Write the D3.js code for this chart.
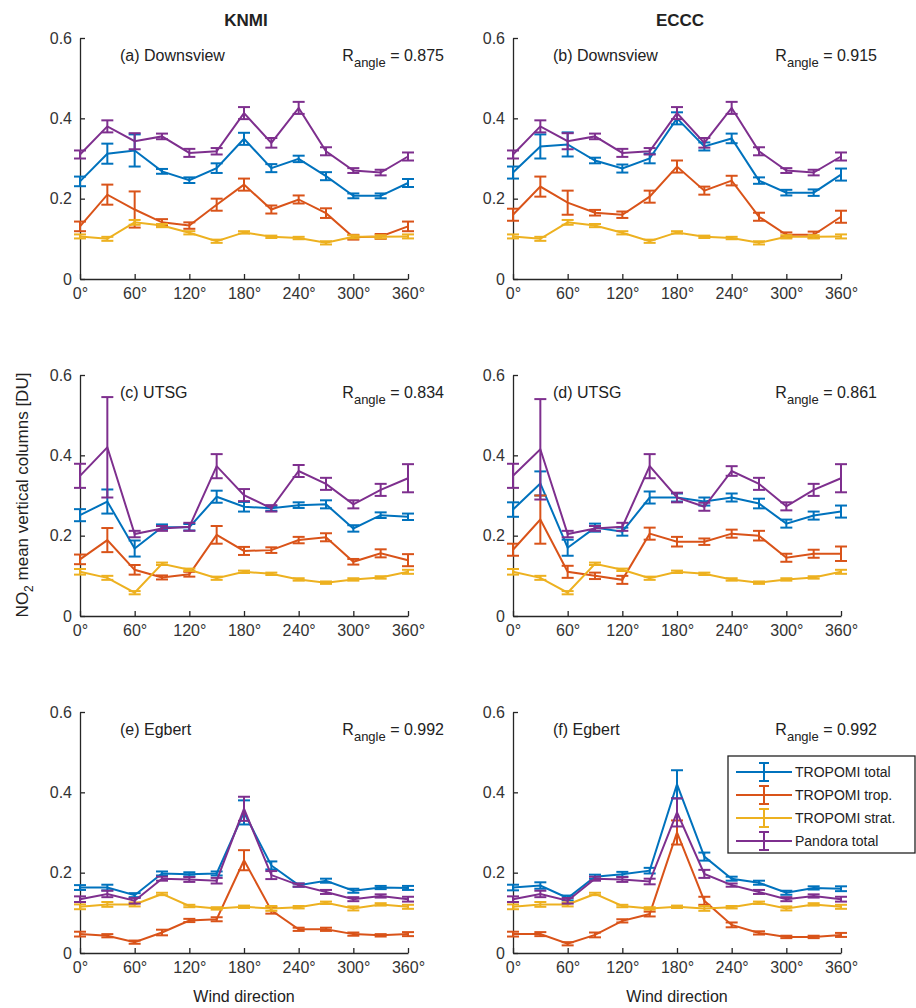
<!DOCTYPE html>
<meta charset="UTF-8">
<head>
<script src="https://cdn.jsdelivr.net/npm/d3@7"></script>
<style>
  body { margin: 0; background: #fff; }
  text { font-family: "Liberation Sans", Arial, sans-serif; fill: #222; }
  .axis path, .axis line { stroke: #262626; stroke-width: 1.3px; }
  .axis text { font-size: 16px; fill: #333; }
</style>
</head>
<body>
<script>
var angles = [0, 30, 60, 90, 120, 150, 180, 210, 240, 270, 300, 330, 360];
var xTicks = [0, 60, 120, 180, 240, 300, 360];
var yTicks = [0, 0.2, 0.4, 0.6];
var seriesNames = ["TROPOMI total", "TROPOMI trop.", "TROPOMI strat.", "Pandora total"];
var colors = ["#0072BD", "#D95319", "#EDB120", "#7E2F8E"];

// (a) KNMI Downsview
var aTotal = [0.243, 0.312, 0.32, 0.268, 0.246, 0.276, 0.349, 0.276, 0.299, 0.256, 0.207, 0.207, 0.239];
var aTotalErr = [0.012, 0.025, 0.04, 0.006, 0.007, 0.012, 0.015, 0.01, 0.008, 0.01, 0.006, 0.006, 0.01];
var aTrop = [0.131, 0.21, 0.173, 0.141, 0.133, 0.185, 0.235, 0.173, 0.198, 0.164, 0.104, 0.106, 0.131];
var aTropErr = [0.012, 0.025, 0.045, 0.008, 0.008, 0.015, 0.015, 0.01, 0.01, 0.012, 0.006, 0.006, 0.012];
var aStrat = [0.106, 0.1, 0.141, 0.133, 0.115, 0.094, 0.116, 0.105, 0.102, 0.09, 0.105, 0.105, 0.106];
var aStratErr = [0.005, 0.005, 0.006, 0.004, 0.004, 0.004, 0.003, 0.003, 0.003, 0.004, 0.004, 0.004, 0.005];
var aPandora = [0.31, 0.38, 0.343, 0.355, 0.314, 0.318, 0.413, 0.339, 0.426, 0.318, 0.27, 0.265, 0.305];
var aPandoraErr = [0.01, 0.015, 0.02, 0.007, 0.01, 0.008, 0.015, 0.012, 0.015, 0.01, 0.006, 0.007, 0.01];

// (b) ECCC Downsview
var bTotal = [0.265, 0.33, 0.335, 0.295, 0.275, 0.3, 0.4, 0.33, 0.35, 0.245, 0.215, 0.215, 0.26];
var bTotalErr = [0.015, 0.03, 0.03, 0.007, 0.01, 0.012, 0.015, 0.01, 0.012, 0.008, 0.007, 0.008, 0.015];
var bTrop = [0.16, 0.23, 0.19, 0.165, 0.16, 0.205, 0.28, 0.22, 0.245, 0.155, 0.11, 0.11, 0.155];
var bTropErr = [0.015, 0.025, 0.03, 0.007, 0.008, 0.015, 0.015, 0.01, 0.012, 0.01, 0.006, 0.008, 0.015];
var bStrat = aStrat;
var bStratErr = aStratErr;
var bPandora = aPandora;
var bPandoraErr = aPandoraErr;

// (c) KNMI UTSG
var cTotal = [0.251, 0.285, 0.168, 0.221, 0.221, 0.297, 0.272, 0.268, 0.276, 0.278, 0.218, 0.251, 0.247];
var cTotalErr = [0.015, 0.03, 0.02, 0.007, 0.008, 0.015, 0.012, 0.006, 0.007, 0.01, 0.008, 0.007, 0.008];
var cTrop = [0.141, 0.189, 0.115, 0.096, 0.104, 0.202, 0.162, 0.164, 0.189, 0.196, 0.135, 0.156, 0.139];
var cTropErr = [0.012, 0.03, 0.012, 0.005, 0.006, 0.022, 0.01, 0.007, 0.008, 0.01, 0.007, 0.01, 0.015];
var cStrat = [0.11, 0.095, 0.058, 0.13, 0.115, 0.094, 0.11, 0.105, 0.091, 0.083, 0.091, 0.096, 0.11];
var cStratErr = [0.007, 0.005, 0.004, 0.003, 0.003, 0.004, 0.003, 0.003, 0.003, 0.003, 0.003, 0.003, 0.005];
var cPandora = [0.349, 0.42, 0.204, 0.218, 0.222, 0.373, 0.301, 0.268, 0.361, 0.329, 0.278, 0.314, 0.343];
var cPandoraErr = [0.03, 0.125, 0.008, 0.006, 0.01, 0.03, 0.015, 0.008, 0.015, 0.015, 0.01, 0.015, 0.035];

// (d) ECCC UTSG
var dTotal = [0.265, 0.33, 0.17, 0.22, 0.21, 0.295, 0.295, 0.285, 0.295, 0.28, 0.23, 0.25, 0.26];
var dTotalErr = [0.018, 0.03, 0.02, 0.01, 0.01, 0.015, 0.01, 0.01, 0.01, 0.012, 0.01, 0.01, 0.015];
var dTrop = [0.165, 0.24, 0.11, 0.1, 0.09, 0.205, 0.185, 0.185, 0.205, 0.2, 0.145, 0.155, 0.155];
var dTropErr = [0.015, 0.06, 0.015, 0.008, 0.01, 0.015, 0.012, 0.008, 0.01, 0.012, 0.01, 0.01, 0.018];
var dStrat = cStrat;
var dStratErr = cStratErr;
var dPandora = [0.349, 0.415, 0.204, 0.218, 0.222, 0.373, 0.295, 0.272, 0.361, 0.329, 0.273, 0.314, 0.343];
var dPandoraErr = [0.03, 0.125, 0.008, 0.006, 0.01, 0.03, 0.012, 0.01, 0.012, 0.015, 0.01, 0.015, 0.035];

// (e) KNMI Egbert
var eTotal = [0.163, 0.163, 0.144, 0.198, 0.196, 0.198, 0.35, 0.218, 0.169, 0.18, 0.155, 0.163, 0.162];
var eTotalErr = [0.006, 0.007, 0.005, 0.005, 0.005, 0.005, 0.03, 0.01, 0.004, 0.005, 0.005, 0.004, 0.005];
var eTrop = [0.047, 0.043, 0.027, 0.051, 0.081, 0.084, 0.231, 0.106, 0.059, 0.059, 0.047, 0.044, 0.047];
var eTropErr = [0.006, 0.004, 0.004, 0.007, 0.004, 0.005, 0.025, 0.008, 0.004, 0.004, 0.004, 0.003, 0.005];
var eStrat = [0.115, 0.121, 0.121, 0.147, 0.117, 0.111, 0.115, 0.111, 0.114, 0.125, 0.111, 0.121, 0.115];
var eStratErr = [0.006, 0.006, 0.005, 0.003, 0.003, 0.003, 0.003, 0.006, 0.003, 0.003, 0.005, 0.003, 0.005];
var ePandora = [0.134, 0.147, 0.13, 0.185, 0.183, 0.18, 0.359, 0.194, 0.169, 0.152, 0.134, 0.142, 0.134];
var ePandoraErr = [0.007, 0.008, 0.007, 0.005, 0.006, 0.007, 0.03, 0.01, 0.004, 0.005, 0.005, 0.004, 0.006];

// (f) ECCC Egbert
var fTotal = [0.163, 0.168, 0.137, 0.19, 0.196, 0.205, 0.42, 0.24, 0.185, 0.175, 0.15, 0.162, 0.16];
var fTotalErr = [0.007, 0.008, 0.006, 0.005, 0.006, 0.007, 0.035, 0.01, 0.005, 0.005, 0.005, 0.004, 0.006];
var fTrop = [0.047, 0.047, 0.023, 0.045, 0.08, 0.097, 0.3, 0.13, 0.07, 0.05, 0.04, 0.04, 0.045];
var fTropErr = [0.006, 0.005, 0.004, 0.006, 0.004, 0.006, 0.03, 0.01, 0.006, 0.004, 0.003, 0.003, 0.005];
var fStrat = eStrat;
var fStratErr = eStratErr;
var fPandora = [0.134, 0.147, 0.13, 0.185, 0.183, 0.178, 0.35, 0.197, 0.169, 0.152, 0.134, 0.142, 0.134];
var fPandoraErr = [0.007, 0.008, 0.007, 0.005, 0.006, 0.007, 0.035, 0.01, 0.004, 0.005, 0.005, 0.004, 0.006];

var panels = [
  { label: "(a) Downsview", r: "0.875", col: 0, row: 0, series: [[aTotal, aTotalErr], [aTrop, aTropErr], [aStrat, aStratErr], [aPandora, aPandoraErr]] },
  { label: "(b) Downsview", r: "0.915", col: 1, row: 0, series: [[bTotal, bTotalErr], [bTrop, bTropErr], [bStrat, bStratErr], [bPandora, bPandoraErr]] },
  { label: "(c) UTSG", r: "0.834", col: 0, row: 1, series: [[cTotal, cTotalErr], [cTrop, cTropErr], [cStrat, cStratErr], [cPandora, cPandoraErr]] },
  { label: "(d) UTSG", r: "0.861", col: 1, row: 1, series: [[dTotal, dTotalErr], [dTrop, dTropErr], [dStrat, dStratErr], [dPandora, dPandoraErr]] },
  { label: "(e) Egbert", r: "0.992", col: 0, row: 2, series: [[eTotal, eTotalErr], [eTrop, eTropErr], [eStrat, eStratErr], [ePandora, ePandoraErr]] },
  { label: "(f) Egbert", r: "0.992", col: 1, row: 2, series: [[fTotal, fTotalErr], [fTrop, fTropErr], [fStrat, fStratErr], [fPandora, fPandoraErr]] }
];

var colLeft = [80, 513], plotW = 328;
var rowTop = [38, 375, 712], plotH = 241;
var cap = 6;

var svg = d3.select("body").append("svg").attr("width", 916).attr("height", 1008);

svg.append("text").attr("x", 246).attr("y", 26).attr("text-anchor", "middle")
  .style("font-size", "17px").style("font-weight", "bold").text("KNMI");
svg.append("text").attr("x", 680).attr("y", 26).attr("text-anchor", "middle")
  .style("font-size", "17px").style("font-weight", "bold").text("ECCC");

var yl = svg.append("text").attr("transform", "translate(28,495) rotate(-90)")
  .attr("text-anchor", "middle").style("font-size", "17px");
yl.append("tspan").text("NO");
yl.append("tspan").attr("dy", 5).style("font-size", "12px").text("2");
yl.append("tspan").attr("dy", -5).text(" mean vertical columns [DU]");

panels.forEach(function (p) {
  var g = svg.append("g").attr("transform", "translate(" + colLeft[p.col] + "," + rowTop[p.row] + ")");
  var x = d3.scaleLinear().domain([0, 360]).range([0, plotW]);
  var y = d3.scaleLinear().domain([0, 0.6]).range([plotH, 0]);

  g.append("g").attr("class", "axis").attr("transform", "translate(0," + plotH + ")")
    .call(d3.axisBottom(x).tickValues(xTicks).tickSizeInner(-5).tickSizeOuter(0).tickPadding(9)
      .tickFormat(function (d) { return d + "°"; }));
  g.append("g").attr("class", "axis")
    .call(d3.axisLeft(y).tickValues(yTicks).tickSizeInner(-5).tickSizeOuter(0).tickPadding(8)
      .tickFormat(function (d) { return d === 0 ? "0" : d3.format(".1f")(d); }));

  var line = d3.line().x(function (d, i) { return x(angles[i]); }).y(function (d) { return y(d); });
  p.series.forEach(function (s, k) {
    var vals = s[0], errs = s[1];
    g.append("path").datum(vals).attr("d", line).attr("fill", "none")
      .attr("stroke", colors[k]).attr("stroke-width", 2);
    var eb = g.append("g").attr("stroke", colors[k]).attr("stroke-width", 2);
    vals.forEach(function (v, i) {
      var cx = x(angles[i]), y1 = y(v + errs[i]), y2 = y(v - errs[i]);
      eb.append("line").attr("x1", cx).attr("x2", cx).attr("y1", y1).attr("y2", y2);
      eb.append("line").attr("x1", cx - cap).attr("x2", cx + cap).attr("y1", y1).attr("y2", y1);
      eb.append("line").attr("x1", cx - cap).attr("x2", cx + cap).attr("y1", y2).attr("y2", y2);
    });
  });

  g.append("text").attr("x", 40).attr("y", 23).style("font-size", "16px").text(p.label);
  var rt = g.append("text").attr("x", plotW + 36).attr("y", 23).attr("text-anchor", "end").style("font-size", "16px");
  rt.append("tspan").text("R");
  rt.append("tspan").attr("dy", 6).style("font-size", "13px").text("angle");
  rt.append("tspan").attr("dy", -6).text(" = " + p.r);

  if (p.row === 2) {
    g.append("text").attr("x", plotW / 2).attr("y", plotH + 49).attr("text-anchor", "middle")
      .style("font-size", "16px").text("Wind direction");
  }
});

// legend in panel (f)
var lg = svg.append("g").attr("transform", "translate(728,756)");
lg.append("rect").attr("width", 187).attr("height", 97).attr("fill", "#fff")
  .attr("stroke", "#222").attr("stroke-width", 1.3);
seriesNames.forEach(function (name, k) {
  var yy = 16 + k * 23;
  var c = colors[k];
  lg.append("line").attr("x1", 8).attr("x2", 64).attr("y1", yy).attr("y2", yy).attr("stroke", c).attr("stroke-width", 2);
  lg.append("line").attr("x1", 36).attr("x2", 36).attr("y1", yy - 9).attr("y2", yy + 9).attr("stroke", c).attr("stroke-width", 2);
  lg.append("line").attr("x1", 31).attr("x2", 41).attr("y1", yy - 9).attr("y2", yy - 9).attr("stroke", c).attr("stroke-width", 2);
  lg.append("line").attr("x1", 31).attr("x2", 41).attr("y1", yy + 9).attr("y2", yy + 9).attr("stroke", c).attr("stroke-width", 2);
  lg.append("text").attr("x", 67).attr("y", yy + 5).style("font-size", "14px").text(name);
});
</script>
</body>
